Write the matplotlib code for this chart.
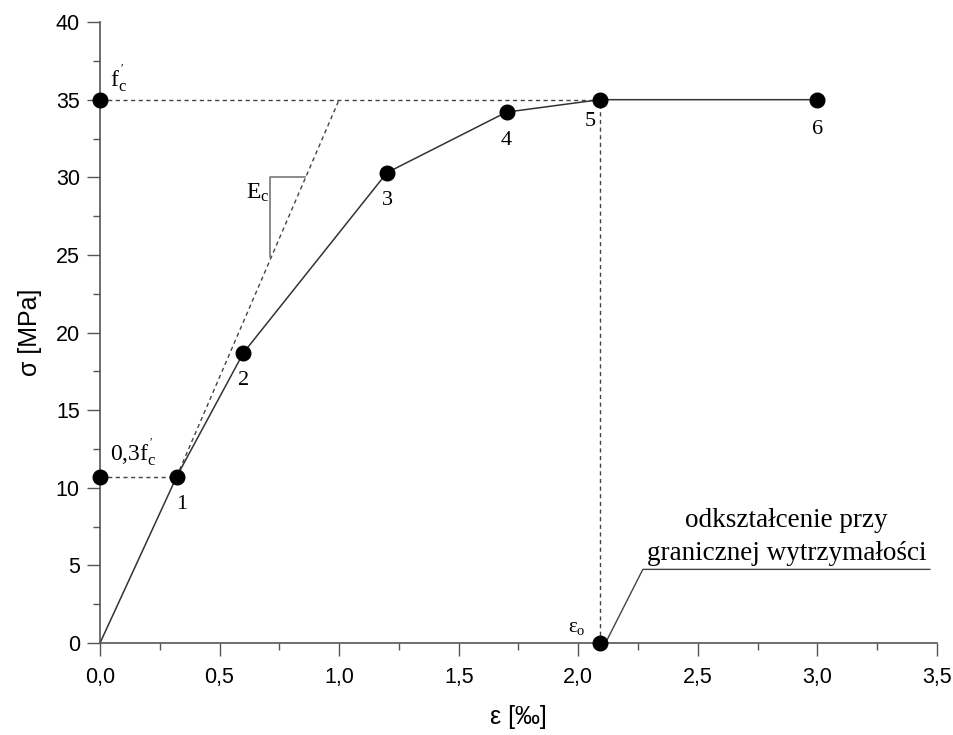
import matplotlib
matplotlib.use("Agg")
import matplotlib.pyplot as plt
from matplotlib.ticker import MultipleLocator, FuncFormatter

# curve points 0..6
eps = [0.0, 0.32, 0.60, 1.20, 1.70, 2.09, 3.0]
sigma = [0.0, 10.7, 18.7, 30.3, 34.2, 35.0, 35.0]
point_labels = ["1", "2", "3", "4", "5", "6"]

fc = 35.0
fc03 = 10.7
eps0 = 2.09

# tangent (E_c) line ends
tan_x = [0.32, 1.0]
tan_y = [10.7, 35.0]

serif = ["Liberation Serif", "DejaVu Serif"]
sans = ["Liberation Sans", "DejaVu Sans"]
plt.rcParams["font.family"] = sans
plt.rcParams["mathtext.fontset"] = "custom"
plt.rcParams["mathtext.rm"] = "Liberation Serif"
plt.rcParams["mathtext.it"] = "Liberation Serif"

fig = plt.figure(figsize=(9.54, 7.35), dpi=100)
ax = fig.add_axes([0.1048, 0.125, 0.8774, 0.845])

dash = dict(color="#444444", lw=1.0, ls=(0, (3, 2.5)))
ax.plot([0, eps0], [fc, fc], **dash)
ax.plot([eps0, eps0], [0, fc], **dash)
ax.plot([0, eps[1]], [fc03, fc03], **dash)
ax.plot(tan_x, tan_y, **dash)

# slope triangle
ax.plot([0.711, 0.711, 0.858], [24.9, 30.0, 30.0], color="#777777", lw=1.2)

ax.plot(eps, sigma, color="#333333", lw=1.1)
ax.plot(eps[1:], sigma[1:], "o", color="black", ms=10.5)
ax.plot([0, 0, eps0], [fc, fc03, 0], "o", color="black", ms=10.5, clip_on=False, zorder=5)

offs = [(0.02, -1.8), (0.0, -1.8), (0.0, -1.8), (0.0, -1.8), (-0.04, -1.4), (0.0, -1.9)]
for lab, x, y, (dx, dy) in zip(point_labels, eps[1:], sigma[1:], offs):
    ax.text(x + dx, y + dy, lab, ha="center", va="center", fontsize=16, family=serif)

ax.text(0.04, 36.3, r"$\mathrm{f}_\mathrm{c}^{\,'}$", fontsize=17, ha="left", va="center")
ax.text(0.04, 12.2, r"$\mathrm{0{,}3f}_\mathrm{c}^{\,'}$", fontsize=17, ha="left", va="center")
ax.text(0.61, 29.0, r"$\mathrm{E}_\mathrm{c}$", fontsize=17, ha="left", va="center")
ax.text(2.03, 1.0, r"$\mathrm{\varepsilon}_\mathrm{o}$", fontsize=15, ha="right", va="center")

# annotation leader
ax.plot([2.12, 2.27, 3.47], [0.2, 4.75, 4.75], color="#444444", lw=1.0)
ax.text(2.87, 7.9, "odkształcenie przy", ha="center", va="center", fontsize=19.5, family=serif)
ax.text(2.87, 5.75, "granicznej wytrzymałości", ha="center", va="center", fontsize=19.5, family=serif)

ax.set_xlim(0, 3.5)
ax.set_ylim(0, 40)
ax.xaxis.set_major_locator(MultipleLocator(0.5))
ax.xaxis.set_minor_locator(MultipleLocator(0.25))
ax.yaxis.set_major_locator(MultipleLocator(5))
ax.yaxis.set_minor_locator(MultipleLocator(2.5))
ax.xaxis.set_major_formatter(FuncFormatter(lambda v, p: f"{v:.1f}".replace(".", ",")))

for s in ["top", "right"]:
    ax.spines[s].set_visible(False)
for s in ["left", "bottom"]:
    ax.spines[s].set_color("#555555")
    ax.spines[s].set_linewidth(1.2)

ax.tick_params(which="major", direction="out", length=9.5, width=1, color="#555555", labelsize=15.5)
ax.tick_params(which="minor", direction="out", length=5, width=1, color="#555555")
ax.tick_params(axis="y", which="major", pad=5)
ax.tick_params(axis="x", which="major", pad=8)

ax.set_ylabel("σ [MPa]", fontsize=18, labelpad=10)
ax.set_xlabel("ε [‰]", fontsize=18, labelpad=12)

fig.savefig("out.png", dpi=100)
